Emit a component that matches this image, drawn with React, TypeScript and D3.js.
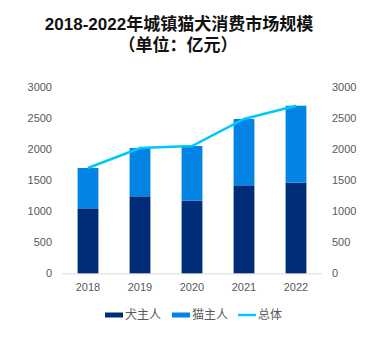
import React, { useLayoutEffect, useRef, useState } from "react";
import * as d3 from "d3";

const years = ["2018", "2019", "2020", "2021", "2022"];
const dogOwners = [1048, 1242, 1171, 1419, 1461];
const catOwners = [650, 779, 882, 1070, 1242];
const totals = [1698, 2021, 2053, 2489, 2703];
const yTicks = [0, 500, 1000, 1500, 2000, 2500, 3000];
const legendLabels = ["犬主人", "猫主人", "总体"];
const titleLines = ["2018-2022年城镇猫犬消费市场规模", "（单位：亿元）"];

const W = 385, H = 341;
const left = 62, right = 322, top = 87.3, bottom = 273.3;
const colors = { dog: "#012C77", cat: "#0384E4", line: "#00C8F8" };
const font = "'Liberation Sans', Arial, 'Noto Sans CJK SC', sans-serif";
const TITLE_W = 272;

export default function App() {
  const t1 = useRef<SVGTextElement>(null);
  const [titleSize, setTitleSize] = useState(17);
  useLayoutEffect(() => {
    if (t1.current) {
      const w = t1.current.getComputedTextLength();
      if (w > 0 && Math.abs(w - TITLE_W) > 2) setTitleSize((s) => Math.min(17, s * TITLE_W / w));
    }
  }, [titleSize]);

  const x = d3.scaleBand().domain(years).range([left, right]).paddingInner(0.6).paddingOuter(0.3);
  const y = d3.scaleLinear().domain([0, 3000]).range([bottom, top]);
  const line = d3.line<number>()
    .x((_, i) => (x(years[i]) as number) + x.bandwidth() / 2)
    .y((d) => y(d));
  const legendItems = [
    { label: legendLabels[0], color: colors.dog, x: 105, type: "bar" },
    { label: legendLabels[1], color: colors.cat, x: 172, type: "bar" },
    { label: legendLabels[2], color: colors.line, x: 238, type: "line" },
  ];
  return (
    <svg width={W} height={H} style={{ position: "absolute", left: 0, top: 0, background: "#fff" }}
      fontFamily={font}>
      <text ref={t1} x={179} y={30} textAnchor="middle" fontSize={titleSize} fontWeight="bold" fill="#111">
        {titleLines[0]}</text>
      <text x={178} y={51} textAnchor="middle" fontSize={titleSize} fontWeight="bold" fill="#111">
        {titleLines[1]}</text>
      {yTicks.map((t) => (
        <g key={t}>
          <text x={52} y={y(t)} dy="0.35em" textAnchor="end" fontSize={11} fill="#595959">{t}</text>
          <text x={332} y={y(t)} dy="0.35em" textAnchor="start" fontSize={11} fill="#595959">{t}</text>
        </g>
      ))}
      <line x1={left} x2={right} y1={bottom + 0.5} y2={bottom + 0.5} stroke="#d9d9d9" strokeWidth={1} />
      {years.map((yr, i) => (
        <g key={yr}>
          <rect x={x(yr)} width={x.bandwidth()} y={y(dogOwners[i])} height={y(0) - y(dogOwners[i])} fill={colors.dog} />
          <rect x={x(yr)} width={x.bandwidth()} y={y(dogOwners[i] + catOwners[i])}
            height={y(dogOwners[i]) - y(dogOwners[i] + catOwners[i])} fill={colors.cat} />
          <text x={(x(yr) as number) + x.bandwidth() / 2} y={291} textAnchor="middle" fontSize={11} fill="#595959">{yr}</text>
        </g>
      ))}
      <path d={line(totals) || ""} fill="none" stroke={colors.line} strokeWidth={2.5} />
      {legendItems.map((it) => (
        <g key={it.label}>
          {it.type === "bar"
            ? <rect x={it.x} y={312.5} width={18} height={5} fill={it.color} />
            : <line x1={it.x} x2={it.x + 18} y1={315} y2={315} stroke={it.color} strokeWidth={2.5} />}
          <text x={it.x + 20} y={315} dy="0.35em" fontSize={12} fill="#595959"
            fontFamily="'Noto Sans CJK SC', sans-serif">{it.label}</text>
        </g>
      ))}
    </svg>
  );
}
